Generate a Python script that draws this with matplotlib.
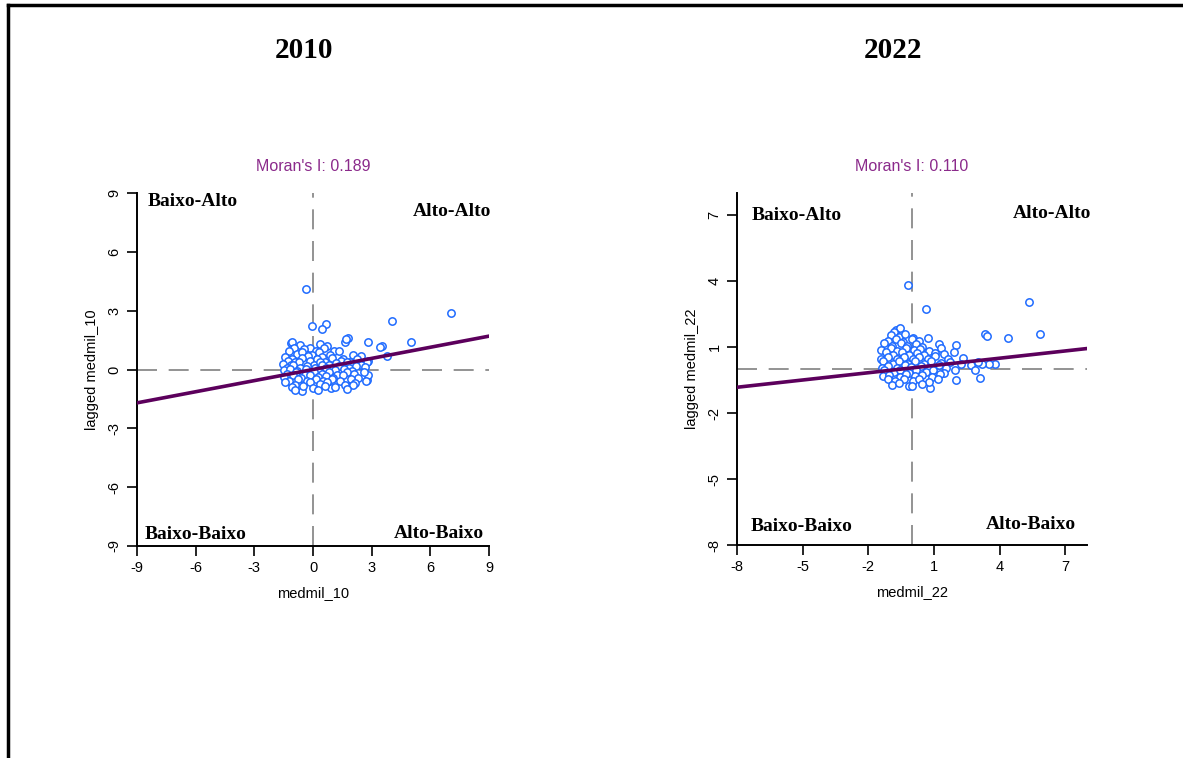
import matplotlib.pyplot as plt
from matplotlib.lines import Line2D

plt.rcParams['axes.unicode_minus'] = False

# medmil_10 (x) and its spatial lag (y)
x_2010 = [-0.35, 7.04, 4.04, 5.03, 3.55, 2.81, 3.79, -0.04, 0.64, 0.45, 1.79, 1.62, 1.67,
          -1.12, -1.05, 2.76, 2.81, 1.99, 0.93, -0.57, 3.41, 2.81,
          -0.64, -0.15, 0.36, -0.97, 0.70,
          -1.24, -0.44, 0.15, 0.55, 1.07,
          -0.83, -0.55, -0.05, 0.30, 0.88, 1.31, 2.04,
          -1.43, -1.06, -0.24, 0.23, 0.48, 1.51, 2.46,
          -1.27, -0.91, -0.56, -0.14, 0.19, 0.62, 0.98, 1.41, 1.90, 2.27, 2.76,
          -1.55, -1.14, -0.74, 0.05, 0.38, 0.83, 1.19, 1.73, 2.48,
          -1.35, -1.01, -0.66, -0.29, 0.11, 0.47, 0.96, 1.33, 1.82, 2.19, 2.66,
          -1.48, -1.16, -0.82, -0.38, 0.28, 0.67, 1.14, 1.58, 1.97,
          -1.33, -0.89, -0.40, 0.03, 0.46, 0.81, 1.25, 1.74, 2.11, 2.59,
          -1.47, -1.03, -0.63, -0.17, 0.27, 0.68, 1.02, 1.53, 2.32,
          -1.22, -0.77, -0.32, 0.13, 0.52, 0.98, 1.37, 1.93, 2.73,
          -1.42, -0.92, -0.13, 0.38, 0.72, 1.63, 2.17,
          -1.07, -0.52, 0.02, 0.63, 1.12, 2.03,
          -0.93, 0.27, 1.73]
y_2010 = [4.12, 2.87, 2.45, 1.41, 1.19, 1.41, 0.71, 2.23, 2.31, 2.06, 1.60, 1.41, 1.55,
          1.34, 1.42, -0.56, -0.27, -0.75, -0.95, -1.12, 1.17, 0.41,
          1.26, 1.12, 1.29, 1.09, 1.19,
          0.95, 1.04, 0.92, 1.08, 0.94,
          0.78, 0.91, 0.74, 0.89, 0.76, 0.93, 0.72,
          0.66, 0.53, 0.69, 0.51, 0.64, 0.55, 0.68,
          0.44, 0.39, 0.57, 0.42, 0.55, 0.38, 0.58, 0.43, 0.40, 0.56, 0.37,
          0.26, 0.22, 0.36, 0.24, 0.37, 0.21, 0.34, 0.39, 0.25,
          0.09, 0.21, 0.07, 0.19, 0.10, 0.23, 0.05, 0.18, 0.08, 0.20, 0.11,
          -0.04, 0.04, -0.06, 0.05, -0.03, 0.06, -0.05, 0.03, -0.08,
          -0.24, -0.13, -0.26, -0.12, -0.25, -0.14, -0.27, -0.15, -0.23, -0.12,
          -0.39, -0.30, -0.42, -0.29, -0.40, -0.31, -0.43, -0.28, -0.41,
          -0.58, -0.47, -0.60, -0.49, -0.57, -0.46, -0.61, -0.48, -0.59,
          -0.66, -0.77, -0.64, -0.76, -0.65, -0.78, -0.67,
          -0.91, -0.82, -0.93, -0.84, -0.90, -0.81,
          -1.02, -1.06, -0.97]

# medmil_22 (x) and its spatial lag (y)
x_2022 = [-0.18, 5.35, 0.62, 5.85, 4.41, 3.32, 3.41, 0.74, 2.03, -0.74, -0.56, -0.82,
          1.99, 3.12, 3.80, 3.50, 3.20, 2.33, -0.14, 0.82, 2.70, 2.90, 3.00,
          -0.97, -0.58, -0.33, 0.03,
          -1.12, -0.71, -0.43, -0.02, 0.33,
          -1.27, -0.93, -0.51, -0.23, 0.18, 0.47, 1.23,
          -1.43, -0.98, -0.68, -0.27, 0.08, 0.37, 0.78, 1.32,
          -1.17, -0.88, -0.47, -0.12, 0.23, 0.57, 1.03, 1.47, 1.93,
          -1.42, -1.08, -0.67, -0.38, 0.03, 0.32, 0.73, 1.07, 1.63,
          -1.33, -0.87, -0.58, -0.17, 0.12, 0.53, 0.87, 1.33, 1.72, 2.23,
          -1.37, -1.08, -0.67, -0.32, -0.03, 0.43, 0.77, 1.23, 1.57,
          -1.28, -0.82, -0.53, -0.12, 0.17, 0.63, 0.97, 1.48, 1.97,
          -1.32, -1.03, -0.57, -0.28, 0.13, 0.47, 0.93, 1.27,
          -1.12, -0.78, -0.37, 0.03, 0.32, 0.78, 1.17,
          -0.92, -0.58, -0.02, 0.47]
y_2022 = [3.80, 3.06, 2.71, 1.58, 1.42, 1.60, 1.50, 1.42, 1.09, 1.76, 1.88, 1.70,
          -0.50, -0.42, 0.21, 0.22, 0.25, 0.51, -0.77, -0.88, 0.20, -0.05, 0.30,
          1.56, 1.44, 1.59, 1.43,
          1.26, 1.35, 1.24, 1.36, 1.27,
          1.16, 1.04, 1.17, 1.03, 1.15, 1.02, 1.14,
          0.85, 0.95, 0.84, 0.96, 0.86, 0.93, 0.83, 0.94,
          0.76, 0.64, 0.77, 0.63, 0.75, 0.62, 0.74, 0.66, 0.76,
          0.46, 0.55, 0.45, 0.56, 0.47, 0.54, 0.44, 0.57, 0.45,
          0.36, 0.24, 0.37, 0.25, 0.35, 0.23, 0.36, 0.26, 0.34, 0.24,
          0.06, 0.15, 0.05, 0.16, 0.07, 0.14, 0.04, 0.17, 0.06,
          -0.05, -0.15, -0.04, -0.16, -0.06, -0.14, -0.04, -0.17, -0.05,
          -0.34, -0.25, -0.35, -0.24, -0.33, -0.26, -0.35, -0.24,
          -0.45, -0.56, -0.44, -0.55, -0.46, -0.57, -0.45,
          -0.74, -0.65, -0.76, -0.66]

years = ['2010', '2022']
morans_i = [0.189, 0.110]
intercepts = [0.0, 0.05]
x_labels = ['medmil_10', 'medmil_22']
y_labels = ['lagged medmil_10', 'lagged medmil_22']
limits = [(-9, 9), (-8, 8)]
ticks = [[-9, -6, -3, 0, 3, 6, 9], [-8, -5, -2, 1, 4, 7]]
quadrant_names = ['Baixo-Alto', 'Alto-Alto', 'Baixo-Baixo', 'Alto-Baixo']

# label positions in data units, one set per panel
quad_pos = [[(-6.13, 8.57), (7.13, 8.06), (-6.0, -8.42), (6.44, -8.37)],
            [(-5.25, 7.0), (6.39, 7.09), (-5.07, -7.17), (5.43, -7.09)]]

fig = plt.figure(figsize=(11.83, 7.58), dpi=100)

# page border: top and left edges only
fig.add_artist(Line2D([8 / 1183, 1], [1 - 5 / 758, 1 - 5 / 758], color='black', lw=2.5,
                      transform=fig.transFigure))
fig.add_artist(Line2D([8 / 1183, 8 / 1183], [0, 1 - 5 / 758], color='black', lw=2.5,
                      transform=fig.transFigure))

axes_rects = [[137 / 1183, 1 - 546 / 758, 352 / 1183, 353 / 758],
              [737 / 1183, 1 - 545 / 758, 350 / 1183, 352 / 758]]
title_x = [304 / 1183, 893 / 1183]

data = [(x_2010, y_2010), (x_2022, y_2022)]

for i in range(2):
    ax = fig.add_axes(axes_rects[i])
    xs, ys = data[i]
    lo, hi = limits[i]

    ax.axvline(0, color='#808080', lw=1.2, dashes=(12, 7), zorder=1)
    ax.axhline(0, color='#808080', lw=1.2, dashes=(12, 7), zorder=1)
    ax.scatter(xs, ys, s=28, facecolors='white', edgecolors='#1f6bff', linewidths=1.1, zorder=2)

    # regression line of lag on value
    ax.plot([lo, hi], [intercepts[i] + morans_i[i] * lo, intercepts[i] + morans_i[i] * hi],
            color='#5c005c', lw=2.6, zorder=3)

    ax.set_xlim(lo, hi)
    ax.set_ylim(lo, hi)
    ax.set_xticks(ticks[i])
    ax.set_yticks(ticks[i])
    ax.set_yticklabels([str(t) for t in ticks[i]], rotation=90, va='center')
    ax.tick_params(length=7, width=1.2, labelsize=10.5, pad=4)
    for lab in ax.get_xticklabels() + ax.get_yticklabels():
        lab.set_family('Liberation Sans')
    ax.spines['top'].set_visible(False)
    ax.spines['right'].set_visible(False)
    ax.spines['left'].set_linewidth(1.4)
    ax.spines['bottom'].set_linewidth(1.4)

    ax.set_xlabel(x_labels[i], fontsize=10.5, family='Liberation Sans', labelpad=8)
    ax.set_ylabel(y_labels[i], fontsize=10.5, family='Liberation Sans', labelpad=6)
    ax.set_title("Moran's I: %.3f" % morans_i[i], fontsize=11.5, color='#8b2a8b',
                 family='Liberation Sans', pad=16)

    for name, (qx, qy) in zip(quadrant_names, quad_pos[i]):
        ax.text(qx, qy, name, ha='center', va='center', fontsize=14, fontweight='bold',
                family='Liberation Serif')

    fig.text(title_x[i], 1 - 50 / 758, years[i], ha='center', va='center', fontsize=21,
             fontweight='bold', family='Liberation Serif')

fig.savefig('out.png', dpi=100)
